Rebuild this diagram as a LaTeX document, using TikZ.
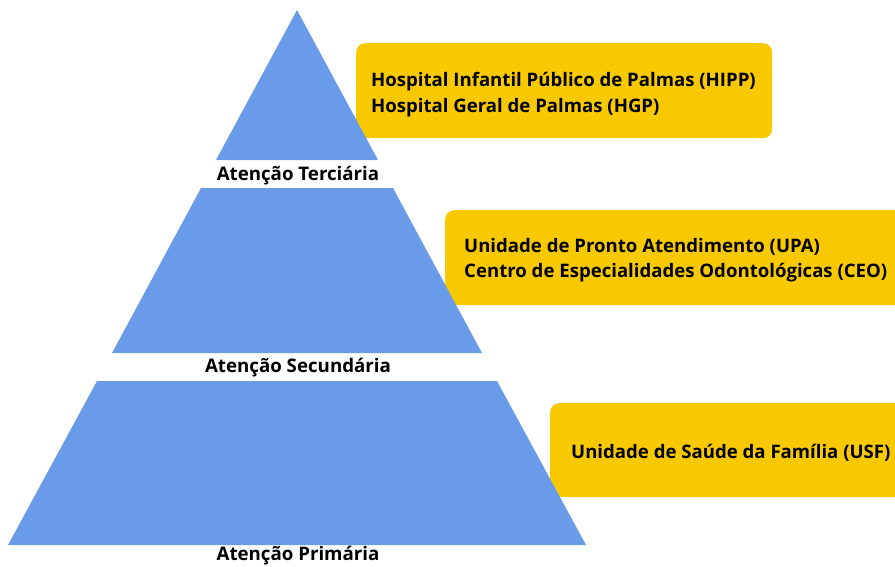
\documentclass[tikz,border=0pt]{standalone}
\usepackage{fontspec}
\setmainfont{Open Sans}
\definecolor{pyr}{HTML}{6A9BE8}
\definecolor{boxy}{HTML}{F9C900}
\begin{document}
\begin{tikzpicture}[x=1pt,y=-1pt,
  lvl/.style={fill=pyr},
  lbl/.style={font=\fontsize{18.7}{22}\selectfont\bfseries, text=black, inner sep=0pt},
  info/.style={fill=boxy, rounded corners=9pt, anchor=north west, inner sep=0pt},
  infotext/.style={font=\fontsize{18.6}{25.5}\selectfont\bfseries, align=left, anchor=west, inner sep=0pt}]
\useasboundingbox (0,0) rectangle (895,566);
% boxes
\node[info, minimum width=416pt, minimum height=95pt] (b1) at (356,43) {};
\node[info, minimum width=470pt, minimum height=95pt] (b2) at (445,210) {};
\node[info, minimum width=370pt, minimum height=94pt] (b3) at (550,403) {};
\node[infotext] (t1) at (371,94.5) {Hospital Infantil Público de Palmas (HIPP)\\Hospital Geral de Palmas (HGP)};
\node[infotext] (t2) at (464,260) {Unidade de Pronto Atendimento (UPA)\\Centro de Especialidades Odontológicas (CEO)};
\node[infotext] (t3) at (571,452.5) {Unidade de Saúde da Família (USF)};
% pyramid
\fill[lvl] (297,10) -- (378,160) -- (216,160) -- cycle;
\fill[lvl] (201,188) -- (393,188) -- (482,353) -- (112,353) -- cycle;
\fill[lvl] (97,381) -- (497,381) -- (586,545) -- (8,545) -- cycle;
% labels
\node[lbl] (l1) at (298,176) {Atenção Terciária};
\node[lbl] (l2) at (298,368) {Atenção Secundária};
\node[lbl] (l3) at (298,555.5) {Atenção Primária};
\end{tikzpicture}
\end{document}
